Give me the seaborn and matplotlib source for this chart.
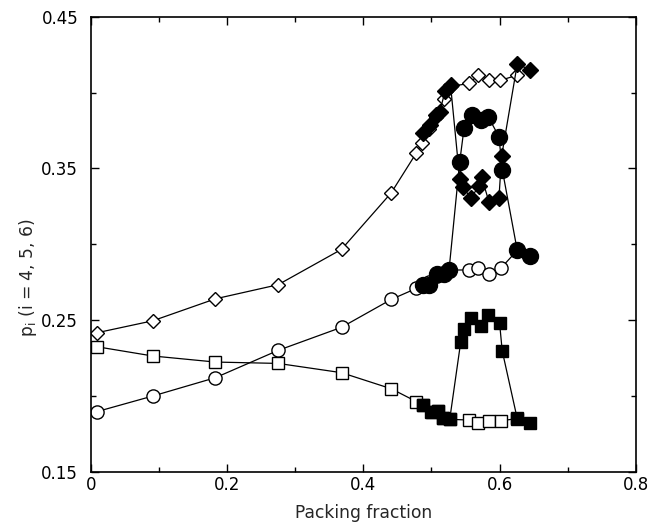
import matplotlib
matplotlib.use("Agg")
import matplotlib.pyplot as plt
import seaborn as sns
import numpy as np
from matplotlib.ticker import MultipleLocator

sns.set_theme(style="ticks")
plt.rcParams['font.family'] = ['DejaVu Sans']

# ---- data ----
# open diamonds (p6, low-density branch)
d_open_x = [0.009, 0.091, 0.183, 0.275, 0.368, 0.441, 0.478, 0.486, 0.497, 0.507, 0.518, 0.528,
            0.555, 0.569, 0.585, 0.601, 0.626]
d_open_y = [0.2416, 0.2495, 0.264, 0.2733, 0.2966, 0.3339, 0.3603, 0.3665, 0.376, 0.384, 0.396, 0.404,
            0.406, 0.4115, 0.408, 0.408, 0.4115]
# filled diamonds
d_fill_x = [0.488, 0.4976, 0.506, 0.512, 0.520, 0.528, 0.5415, 0.5463, 0.5576, 0.5697, 0.5737,
            0.5844, 0.599, 0.603, 0.626, 0.644]
d_fill_y = [0.373, 0.3786, 0.385, 0.387, 0.401, 0.405, 0.3428, 0.338, 0.3302, 0.3384, 0.344,
            0.328, 0.3302, 0.3581, 0.419, 0.415]

# open circles (p5)
c_open_x = [0.009, 0.091, 0.183, 0.275, 0.368, 0.441, 0.478, 0.488, 0.497, 0.508, 0.518, 0.526,
            0.555, 0.569, 0.585, 0.6015, 0.626]
c_open_y = [0.1896, 0.1999, 0.212, 0.230, 0.2452, 0.2636, 0.2709, 0.273, 0.275, 0.279, 0.281, 0.283,
            0.283, 0.284, 0.2804, 0.284, 0.296]
# filled circles
c_fill_x = [0.488, 0.4966, 0.5087, 0.5185, 0.5258, 0.5415, 0.5478, 0.559, 0.572, 0.5833, 0.599,
            0.604, 0.6258, 0.644]
c_fill_y = [0.273, 0.273, 0.2804, 0.2804, 0.283, 0.3544, 0.3764, 0.385, 0.382, 0.384, 0.371,
            0.349, 0.2962, 0.292]

# open squares (p4)
s_open_x = [0.009, 0.091, 0.183, 0.275, 0.368, 0.441, 0.478, 0.488, 0.500, 0.510, 0.517, 0.527,
            0.555, 0.569, 0.585, 0.6015, 0.626]
s_open_y = [0.2324, 0.2263, 0.2223, 0.2214, 0.2153, 0.2047, 0.1962, 0.194, 0.1896, 0.1902, 0.1852, 0.1845,
            0.1841, 0.1823, 0.1836, 0.1836, 0.185]
# filled squares
s_fill_x = [0.4878, 0.5005, 0.510, 0.517, 0.5268, 0.543, 0.5478, 0.5576, 0.572, 0.5833, 0.600,
            0.6038, 0.6258, 0.644]
s_fill_y = [0.194, 0.1896, 0.1902, 0.1852, 0.1845, 0.2357, 0.2439, 0.2511, 0.2461, 0.2533, 0.2479,
            0.2298, 0.1852, 0.1823]

x_ticks = [0, 0.2, 0.4, 0.6, 0.8]
x_tick_labels = ["0", "0.2", "0.4", "0.6", "0.8"]
y_ticks = [0.15, 0.25, 0.35, 0.45]
y_tick_labels = ["0.15", "0.25", "0.35", "0.45"]

fig = plt.figure(figsize=(6.49, 5.24), dpi=100)
ax = fig.add_axes([0.1398, 0.0998, 0.8400, 0.8683])

lw = 0.9
series = [
    (d_open_x, d_open_y, 'D', 'white', 7.0),
    (c_open_x, c_open_y, 'o', 'white', 9.5),
    (s_open_x, s_open_y, 's', 'white', 8.0),
    (d_fill_x, d_fill_y, 'D', 'black', 8.0),
    (c_fill_x, c_fill_y, 'o', 'black', 11.5),
    (s_fill_x, s_fill_y, 's', 'black', 9.0),
]
for xs, ys, mk, fc, ms in series:
    sns.lineplot(x=xs, y=ys, ax=ax, sort=False, estimator=None, color='black',
                 linewidth=lw, marker=mk, markersize=ms, markerfacecolor=fc,
                 markeredgecolor='black', markeredgewidth=1.0)

ax.set_xlim(0, 0.8)
ax.set_ylim(0.15, 0.45)
ax.set_xticks(x_ticks)
ax.set_xticklabels(x_tick_labels)
ax.set_yticks(y_ticks)
ax.set_yticklabels(y_tick_labels)
ax.xaxis.set_minor_locator(MultipleLocator(0.1))
ax.yaxis.set_minor_locator(MultipleLocator(0.05))
ax.tick_params(which='both', direction='in', top=True, right=True, width=1.0, colors='black',
               labelsize=12)
ax.tick_params(which='major', length=5.5)
ax.tick_params(which='minor', length=3.5)
ax.tick_params(axis='x', which='major', pad=3)
ax.tick_params(axis='y', which='major', pad=9)
for sp in ax.spines.values():
    sp.set_linewidth(1.2)
    sp.set_color('black')

ax.set_xlabel("Packing fraction", fontsize=12.3)
ax.set_ylabel(r"p$_\mathregular{i}$ (i = 4, 5, 6)", fontsize=12.3)
ax.yaxis.set_label_coords(-0.094, 0.4257)
ax.xaxis.set_label_coords(0.5, -0.072)

fig.savefig("out.png", dpi=100)
